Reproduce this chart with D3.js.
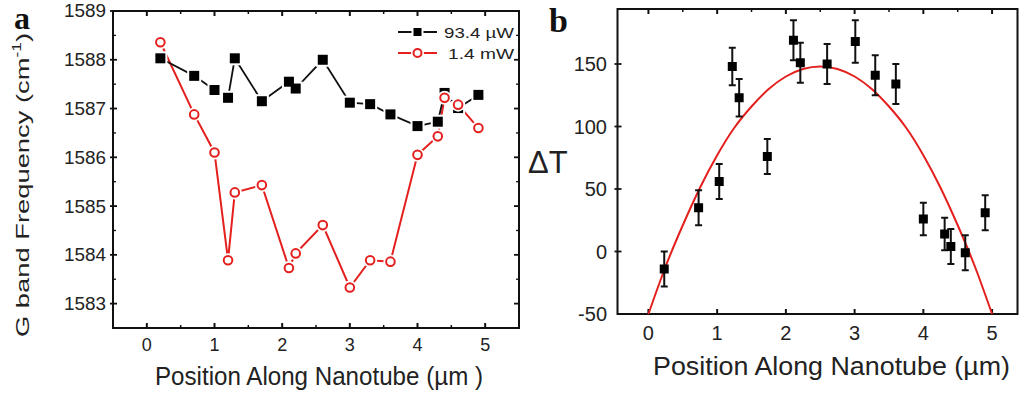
<!DOCTYPE html>
<html><head><meta charset="utf-8">
<script src="https://cdn.jsdelivr.net/npm/d3@7"></script>
<style>
html,body{margin:0;padding:0;background:#fff;}
svg{display:block;font-family:"Liberation Sans",Arial,sans-serif;}
</style></head>
<body>
<svg id="chart" width="1020" height="396"></svg>
<script>
// ---------- data ----------
const positionsA = [0.2,0.7,1.0,1.2,1.3,1.7,2.1,2.2,2.6,3.0,3.3,3.6,4.0,4.3,4.4,4.6,4.9];
const freqLowPower = [1588.03,1587.67,1587.38,1587.22,1588.03,1587.15,1587.55,1587.41,1588.0,1587.12,1587.09,1586.88,1586.64,1586.73,1587.32,1587.01,1587.28];
const freqHighPower = [1588.36,1586.88,1586.10,1583.89,1585.28,1585.43,1583.73,1584.03,1584.61,1583.33,1583.89,1583.86,1586.05,1586.43,1587.22,1587.08,1586.60];
const seriesNames = ["93.4 \u00b5W","1.4 mW"];
const yTicksA = [1583,1584,1585,1586,1587,1588,1589];
const xTicks = [0,1,2,3,4,5];

const positionsB = [0.23,0.73,1.03,1.22,1.32,1.73,2.11,2.21,2.6,3.01,3.3,3.6,4.0,4.31,4.4,4.61,4.9];
const deltaT = [-14,35,56,148,123,76,169,151,150,168,141,134,26,14,4,-1,31];
const deltaTErr = [14,14,14,15,15,14,16,16,16,17,16,16,13,13,14,14,14];
const fitX = [0,0.25,0.5,0.75,1,1.25,1.5,1.75,2,2.25,2.5,2.75,3,3.25,3.5,3.75,4,4.25,4.5,4.75,5];
const fitY = [-50,-12,21,51,77,99,116,130,140,146,148,146,140,130,116,99,77,51,21,-12,-50];
const yTicksB = [-50,0,50,100,150];

// ---------- setup ----------
const svg = d3.select("#chart");
const RED = "#e4201e";

function frame(g, x, y, opts){
  const [x0,x1] = x.range(), [y0,y1] = y.range(); // y0 bottom, y1 top
  const xd = x.domain();
  const majors = xTicks;
  const minors = d3.range(Math.ceil(xd[0]*2)/2, xd[1], 0.5).filter(v=>Math.abs(v-Math.round(v))>0.01);
  g.append("rect").attr("x",x0).attr("y",y1).attr("width",x1-x0).attr("height",y0-y1)
    .attr("fill","none").attr("stroke","#111").attr("stroke-width",2);
  majors.forEach(v=>g.append("line").attr("x1",x(v)).attr("x2",x(v)).attr("y1",y1).attr("y2",y1+5).attr("stroke","#111").attr("stroke-width",2));
  minors.forEach(v=>g.append("line").attr("x1",x(v)).attr("x2",x(v)).attr("y1",y1).attr("y2",y1+3).attr("stroke","#111").attr("stroke-width",1.5));
  majors.forEach(v=>g.append("line").attr("x1",x(v)).attr("x2",x(v)).attr("y1",y0).attr("y2",y0-5).attr("stroke","#111").attr("stroke-width",2));
  if(opts.bottomMinor) minors.forEach(v=>g.append("line").attr("x1",x(v)).attr("x2",x(v)).attr("y1",y0).attr("y2",y0-3).attr("stroke","#111").attr("stroke-width",1.5));
  opts.yMajors.forEach(v=>g.append("line").attr("x1",x0-3).attr("x2",x0+4).attr("y1",y(v)).attr("y2",y(v)).attr("stroke","#111").attr("stroke-width",1.8));
  (opts.yMinors||[]).forEach(v=>g.append("line").attr("x1",x0).attr("x2",x0+3).attr("y1",y(v)).attr("y2",y(v)).attr("stroke","#111").attr("stroke-width",1.3));
  if(opts.rightTicks){
    opts.yMajors.forEach(v=>g.append("line").attr("x1",x1-5).attr("x2",x1).attr("y1",y(v)).attr("y2",y(v)).attr("stroke","#111").attr("stroke-width",1.8));
    (opts.yMinors||[]).forEach(v=>g.append("line").attr("x1",x1-3).attr("x2",x1).attr("y1",y(v)).attr("y2",y(v)).attr("stroke","#111").attr("stroke-width",1.3));
  }
}

// ---------- panel a ----------
const xa = d3.scaleLinear().domain([-0.5,5.5]).range([113,519]);
const ya = d3.scaleLinear().domain([1582.5,1589]).range([328,11]);
const ga = svg.append("g");
frame(ga, xa, ya, {yMajors:yTicksA, yMinors:d3.range(1582.5,1589,1).slice(1), rightTicks:true, bottomMinor:true});

ga.selectAll(".yl").data(yTicksA).join("text").attr("x",106).attr("y",d=>ya(d)).attr("dy","0.36em")
  .attr("text-anchor","end").attr("font-size",18).attr("fill","#222").attr("textLength",42).attr("lengthAdjust","spacingAndGlyphs").text(d=>d);
ga.selectAll(".xl").data(xTicks).join("text").attr("x",d=>xa(d)).attr("y",351)
  .attr("text-anchor","middle").attr("font-size",18).attr("fill","#222").text(d=>d);

ga.append("text").attr("x",319).attr("y",385).attr("text-anchor","middle").attr("font-size",26)
  .attr("fill","#222").attr("textLength",328).attr("lengthAdjust","spacingAndGlyphs").text("Position Along Nanotube (\u00b5m )");

const yt = ga.append("text").attr("transform","translate(29,185) rotate(-90)").attr("text-anchor","middle")
  .attr("font-size",19).attr("fill","#222").attr("textLength",304).attr("lengthAdjust","spacingAndGlyphs");
yt.append("tspan").text("G band Frequency (cm");
yt.append("tspan").attr("font-size",12).attr("dy",-8).text("-1");
yt.append("tspan").attr("dy",8).text(")");

const lineA = d3.line().x((d,i)=>xa(positionsA[i])).y(d=>ya(d));
ga.append("path").attr("d",lineA(freqHighPower)).attr("fill","none").attr("stroke",RED).attr("stroke-width",2);
ga.append("path").attr("d",lineA(freqLowPower)).attr("fill","none").attr("stroke","#111").attr("stroke-width",1.8);

ga.selectAll(".sqh").data(freqLowPower).join("rect")
  .attr("x",(d,i)=>xa(positionsA[i])-7).attr("y",d=>ya(d)-7).attr("width",14).attr("height",14).attr("fill","#fff");
ga.selectAll(".sq").data(freqLowPower).join("rect")
  .attr("x",(d,i)=>xa(positionsA[i])-5).attr("y",d=>ya(d)-5).attr("width",10).attr("height",10).attr("fill","#000");
ga.selectAll(".ch").data(freqHighPower).join("circle")
  .attr("cx",(d,i)=>xa(positionsA[i])).attr("cy",d=>ya(d)).attr("r",7).attr("fill","#fff");
ga.selectAll(".c").data(freqHighPower).join("circle")
  .attr("cx",(d,i)=>xa(positionsA[i])).attr("cy",d=>ya(d)).attr("r",4.3).attr("fill","#fff").attr("stroke",RED).attr("stroke-width",2);

// legend
const lg = ga.append("g");
lg.append("line").attr("x1",398).attr("x2",437).attr("y1",32).attr("y2",32).attr("stroke","#111").attr("stroke-width",1.8);
lg.append("rect").attr("x",417.5-6).attr("y",32-6).attr("width",12).attr("height",12).attr("fill","#fff");
lg.append("rect").attr("x",417.5-4).attr("y",32-4).attr("width",8).attr("height",8).attr("fill","#000");
lg.append("text").attr("x",444).attr("y",37.5).attr("font-size",15).attr("fill","#222").attr("textLength",70).attr("lengthAdjust","spacingAndGlyphs").text(seriesNames[0]);
lg.append("line").attr("x1",398).attr("x2",437).attr("y1",53).attr("y2",53).attr("stroke",RED).attr("stroke-width",2);
lg.append("circle").attr("cx",417.5).attr("cy",53).attr("r",6.5).attr("fill","#fff");
lg.append("circle").attr("cx",417.5).attr("cy",53).attr("r",4).attr("fill","#fff").attr("stroke",RED).attr("stroke-width",2);
lg.append("text").attr("x",448).attr("y",58.5).attr("font-size",15).attr("fill","#222").attr("textLength",66).attr("lengthAdjust","spacingAndGlyphs").text(seriesNames[1]);

svg.append("text").attr("x",14).attr("y",29).attr("font-family","'Liberation Serif','Times New Roman',serif")
  .attr("font-weight","bold").attr("font-size",32).attr("fill","#111").text("a");

// ---------- panel b ----------
const xb = d3.scaleLinear().domain([-0.45,5.37]).range([617.5,1017.5]);
const yb = d3.scaleLinear().domain([-50,194]).range([314,9]);
const gb = svg.append("g");
gb.append("clipPath").attr("id","clipb").append("rect").attr("x",617.5).attr("y",9).attr("width",400).attr("height",305);

frame(gb, xb, yb, {yMajors:yTicksB.slice(1), yMinors:[], rightTicks:false, bottomMinor:false});

gb.selectAll(".yl").data(yTicksB).join("text").attr("x",607).attr("y",d=>yb(d)).attr("dy","0.36em")
  .attr("text-anchor","end").attr("font-size",20).attr("fill","#222").text(d=>d);
gb.selectAll(".xl").data(xTicks).join("text").attr("x",d=>xb(d)).attr("y",340)
  .attr("text-anchor","middle").attr("font-size",20).attr("fill","#222").text(d=>d);
gb.append("text").attr("x",831.5).attr("y",375).attr("text-anchor","middle").attr("font-size",25)
  .attr("fill","#222").attr("textLength",357).attr("lengthAdjust","spacingAndGlyphs").text("Position Along Nanotube  (\u00b5m)");
gb.append("text").attr("x",528).attr("y",173).attr("font-size",31).attr("fill","#222").text("\u0394T");

const fitLine = d3.line().x((d,i)=>xb(fitX[i])).y(d=>yb(d)).curve(d3.curveNatural);
gb.append("path").attr("clip-path","url(#clipb)").attr("d",fitLine(fitY)).attr("fill","none").attr("stroke",RED).attr("stroke-width",2);

const eb = gb.append("g").attr("stroke","#111").attr("stroke-width",2);
deltaT.forEach((v,i)=>{
  const cx = xb(positionsB[i]), top = yb(v+deltaTErr[i]), bot = yb(v-deltaTErr[i]);
  eb.append("line").attr("x1",cx).attr("x2",cx).attr("y1",top).attr("y2",bot);
  eb.append("line").attr("x1",cx-3.5).attr("x2",cx+3.5).attr("y1",top).attr("y2",top);
  eb.append("line").attr("x1",cx-3.5).attr("x2",cx+3.5).attr("y1",bot).attr("y2",bot);
});
gb.selectAll(".sq").data(deltaT).join("rect")
  .attr("x",(d,i)=>xb(positionsB[i])-4.5).attr("y",d=>yb(d)-4.5).attr("width",9).attr("height",9).attr("fill","#000");

svg.append("text").attr("x",549).attr("y",32).attr("font-family","'Liberation Serif','Times New Roman',serif")
  .attr("font-weight","bold").attr("font-size",34).attr("fill","#111").text("b");
</script>
</body></html>
